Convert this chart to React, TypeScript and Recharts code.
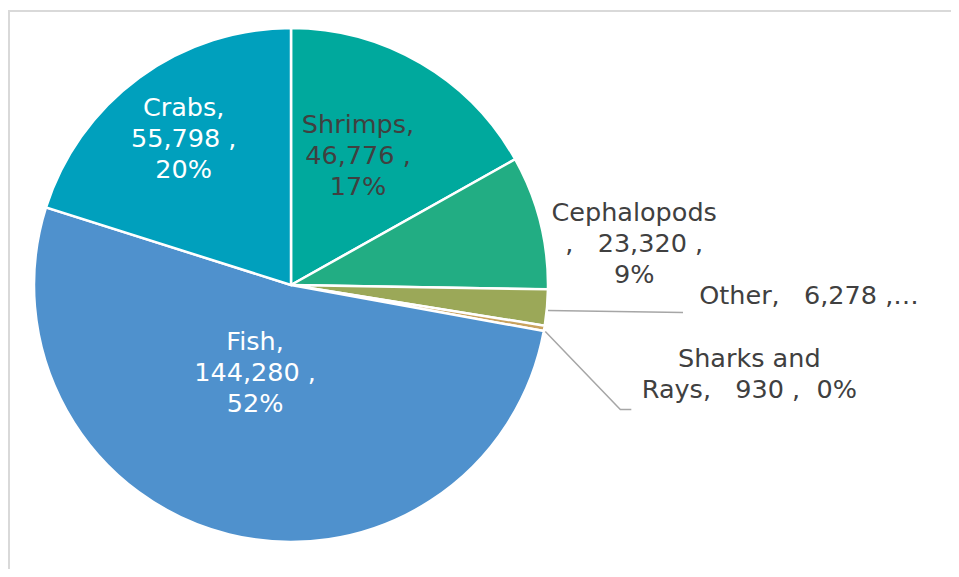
import React from 'react';
import { PieChart, Pie, Cell } from 'recharts';

// values (clockwise from 12 o'clock)
const categories = ['Shrimps', 'Cephalopods', 'Other', 'Sharks and Rays', 'Fish', 'Crabs'];
const catches = [46776, 23320, 6278, 930, 144280, 55798];
const shareLabels = ['17%', '9%', '2%', '0%', '52%', '20%'];
const sliceColors = ['#00A99D', '#22AD83', '#9BA858', '#C9A25E', '#4F91CD', '#00A0BD'];

const fmt = (v: number) => v.toLocaleString('en-US');

// how each label is broken into lines and where it sits
const labelLayout: Record<string, any> = {
  Shrimps: { r: 0.57, dx: -7, dy: -4, color: '#404040', lines: (n: string, v: string, p: string) => [`${n},`, `${v} ,`, p] },
  Cephalopods: { r: 1, dx: 94, dy: 21, color: '#404040', lines: (n: string, v: string, p: string) => [n, `,   ${v} ,`, p] },
  Other: { r: 1, dx: 262, dy: -13, color: '#404040', lines: (n: string, v: string) => [`${n},   ${v} ,\u2026`], leader: [[136, 5]] },
  'Sharks and Rays': { r: 1, dx: 205, dy: 45, color: '#404040', lines: (n: string, v: string, p: string) => ['Sharks and', `Rays,   ${v} ,  ${p}`], leader: [[76, 81], [87, 81]] },
  Fish: { r: 0.37, dx: -13, dy: -5, color: '#ffffff', lines: (n: string, v: string, p: string) => [`${n},`, `${v} ,`, p] },
  Crabs: { r: 0.707, dx: 0, dy: 0, color: '#ffffff', lines: (n: string, v: string, p: string) => [`${n},`, `${v} ,`, p] },
};

const data = categories.map((name, i) => ({ name, value: catches[i], share: shareLabels[i] }));

const RAD = Math.PI / 180;
const LINE_H = 31;

function renderLabel(props: any) {
  const { cx, cy, midAngle, outerRadius, index } = props;
  const d = data[index];
  const lay = labelLayout[d.name];
  const cos = Math.cos(-midAngle * RAD);
  const sin = Math.sin(-midAngle * RAD);
  const ex = cx + outerRadius * cos;
  const ey = cy + outerRadius * sin;
  const tx = cx + lay.r * outerRadius * cos + lay.dx;
  const ty = cy + lay.r * outerRadius * sin + lay.dy;
  const lines: string[] = lay.lines(d.name, fmt(d.value), d.share);
  const top = ty - ((lines.length - 1) * LINE_H) / 2;
  let leader = null;
  if (lay.leader) {
    const pts = [[ex + 1, ey + 3], ...lay.leader.map((p: number[]) => [ex + p[0], ey + p[1]])];
    leader = <polyline points={pts.map((p) => p.join(',')).join(' ')} fill="none" stroke="#A6A6A6" strokeWidth={1.5} />;
  }
  return (
    <g key={`lbl-${index}`}>
      {leader}
      <text x={tx} y={top} fill={lay.color} textAnchor="middle" fontSize={25.5} fontFamily="'DejaVu Sans', Verdana, sans-serif">
        {lines.map((l, i) => (
          <tspan key={i} x={tx} y={top + i * LINE_H} dominantBaseline="central" style={{ whiteSpace: 'pre' }}>
            {l}
          </tspan>
        ))}
      </text>
    </g>
  );
}

function App() {
  return (
    <div style={{ position: 'relative', width: 959, height: 577, margin: -8, overflow: 'hidden', background: '#fff' }}>
      <div style={{ position: 'absolute', left: 8, top: 10, width: 980, height: 620, border: '2px solid #D9D9D9', boxSizing: 'border-box' }} />
      <div style={{ position: 'absolute', left: 0, top: 0 }}>
        <PieChart width={959} height={577} margin={{ top: 0, right: 0, bottom: 0, left: 0 }}>
          <Pie
            data={data}
            dataKey="value"
            nameKey="name"
            cx={291}
            cy={285}
            outerRadius={257}
            startAngle={90}
            endAngle={-270}
            stroke="#ffffff"
            strokeWidth={2.5}
            label={renderLabel}
            labelLine={false}
            isAnimationActive={false}
          >
            {data.map((d, i) => (
              <Cell key={d.name} fill={sliceColors[i]} />
            ))}
          </Pie>
        </PieChart>
      </div>
    </div>
  );
}

export default App;
